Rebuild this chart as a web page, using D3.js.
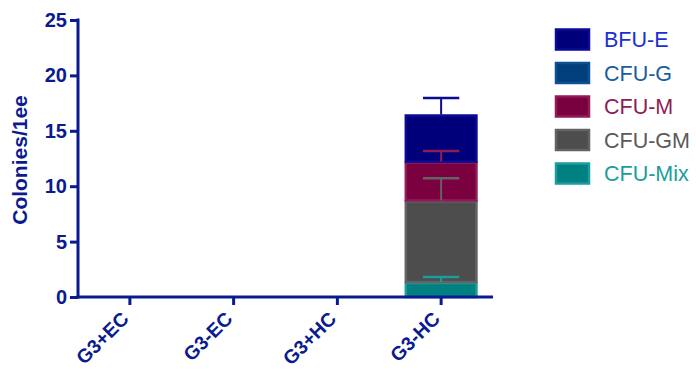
<!DOCTYPE html>
<html><head><meta charset="utf-8">
<script src="https://cdn.jsdelivr.net/npm/d3@7"></script>
<style>body{margin:0;background:#fff}svg{display:block}text{font-family:"Liberation Sans",Arial,sans-serif}</style>
</head><body><svg id="c" width="696" height="369"></svg>
<script>
const categories = ["G3+EC","G3-EC","G3+HC","G3-HC"];
const seriesNames = ["CFU-Mix","CFU-GM","CFU-M","CFU-G","BFU-E"];
const mixValues = [0,0,0,1.35];
const gmValues  = [0,0,0,7.37];
const mValues   = [0,0,0,3.5];
const gValues   = [0,0,0,0];
const bfueValues= [0,0,0,4.25];
const mixErr = [0,0,0,0.45];
const gmErr  = [0,0,0,2.0];
const mErr   = [0,0,0,0.95];
const gErr   = [0,0,0,0];
const bfueErr= [0,0,0,1.5];
const yTicks = [0,5,10,15,20,25];
const legendOrder = ["BFU-E","CFU-G","CFU-M","CFU-GM","CFU-Mix"];

const fills  = {"BFU-E":"#00007a","CFU-G":"#003f7c","CFU-M":"#7a0040","CFU-GM":"#4d4d4d","CFU-Mix":"#008080"};
const strokes= {"BFU-E":"#0a0a95","CFU-G":"#0a5092","CFU-M":"#8e1c55","CFU-GM":"#636363","CFU-Mix":"#1a9d9d"};
const textCol= {"BFU-E":"#1a2fd6","CFU-G":"#1a5c9c","CFU-M":"#8e1c55","CFU-GM":"#5a5a5a","CFU-Mix":"#1a9d9d"};
const axisCol = "#0a1a90";

const valuesBy = {"CFU-Mix":mixValues,"CFU-GM":gmValues,"CFU-M":mValues,"CFU-G":gValues,"BFU-E":bfueValues};
const errBy = {"CFU-Mix":mixErr,"CFU-GM":gmErr,"CFU-M":mErr,"CFU-G":gErr,"BFU-E":bfueErr};

const table = categories.map((c,i)=>{const o={cat:c};seriesNames.forEach(s=>o[s]=valuesBy[s][i]);return o;});
const stacked = d3.stack().keys(seriesNames)(table);

const svg = d3.select("#c");
const x = d3.scaleBand().domain(categories).range([78,493]).paddingInner(0.3).paddingOuter(0.15);
const y = d3.scaleLinear().domain([0,25]).range([297,20]);

// bars
stacked.forEach(layer=>{
  const key = layer.key;
  layer.forEach((d,i)=>{
    if(d[1]-d[0] <= 0) return;
    svg.append("rect")
      .attr("x", x(categories[i])+1).attr("width", x.bandwidth()-2)
      .attr("y", y(d[1])+1).attr("height", y(d[0])-y(d[1])-1)
      .attr("fill", fills[key]).attr("stroke", strokes[key]).attr("stroke-width",2.5);
  });
});
// error bars
stacked.forEach(layer=>{
  const key = layer.key;
  layer.forEach((d,i)=>{
    const e = errBy[key][i];
    if(d[1]-d[0] <= 0 || e<=0) return;
    const cx = x(categories[i]) + x.bandwidth()/2;
    const cw = x.bandwidth()/4;
    svg.append("line").attr("x1",cx).attr("x2",cx).attr("y1",y(d[1])).attr("y2",y(d[1]+e))
      .attr("stroke",strokes[key]).attr("stroke-width",2);
    svg.append("line").attr("x1",cx-cw).attr("x2",cx+cw).attr("y1",y(d[1]+e)).attr("y2",y(d[1]+e))
      .attr("stroke",strokes[key]).attr("stroke-width",2.5);
  });
});

// axes
const yAx = svg.append("g").attr("transform","translate(78,0)")
  .call(d3.axisLeft(y).tickValues(yTicks).tickSize(8).tickSizeOuter(0).tickPadding(3));
const xAx = svg.append("g").attr("transform","translate(0,297)")
  .call(d3.axisBottom(x).tickSize(8).tickSizeOuter(0).tickPadding(4));
[yAx,xAx].forEach(g=>{
  g.select(".domain").attr("stroke",axisCol).attr("stroke-width",3);
  g.selectAll(".tick line").attr("stroke",axisCol).attr("stroke-width",3);
  g.selectAll(".tick text").attr("fill",axisCol).attr("font-weight","bold")
    .attr("font-size",20).attr("font-family","'Liberation Sans',Arial,sans-serif");
});
yAx.select(".domain").attr("d","M0,18.5V298.5");
xAx.select(".domain").attr("d","M76.5,0H493");
xAx.selectAll(".tick text").attr("text-anchor","end").attr("dy",null).attr("font-size",19.5)
  .attr("transform","translate(0,23) rotate(-45)").attr("y",0).attr("x",0);

svg.append("text").attr("transform","translate(27,160) rotate(-90)")
  .attr("text-anchor","middle").attr("fill",axisCol).attr("font-weight","bold")
  .attr("font-size",21).text("Colonies/1ee");

// legend
const lg = svg.append("g");
legendOrder.forEach((s,i)=>{
  const cy = 39.5 + i*33.5;
  lg.append("rect").attr("x",556).attr("y",cy-10).attr("width",33).attr("height",20)
    .attr("fill",fills[s]).attr("stroke",strokes[s]).attr("stroke-width",2.5);
  lg.append("text").attr("x",604).attr("y",cy+7.5).attr("fill",textCol[s])
    .attr("font-size",21.5).text(s);
});
</script></body></html>
